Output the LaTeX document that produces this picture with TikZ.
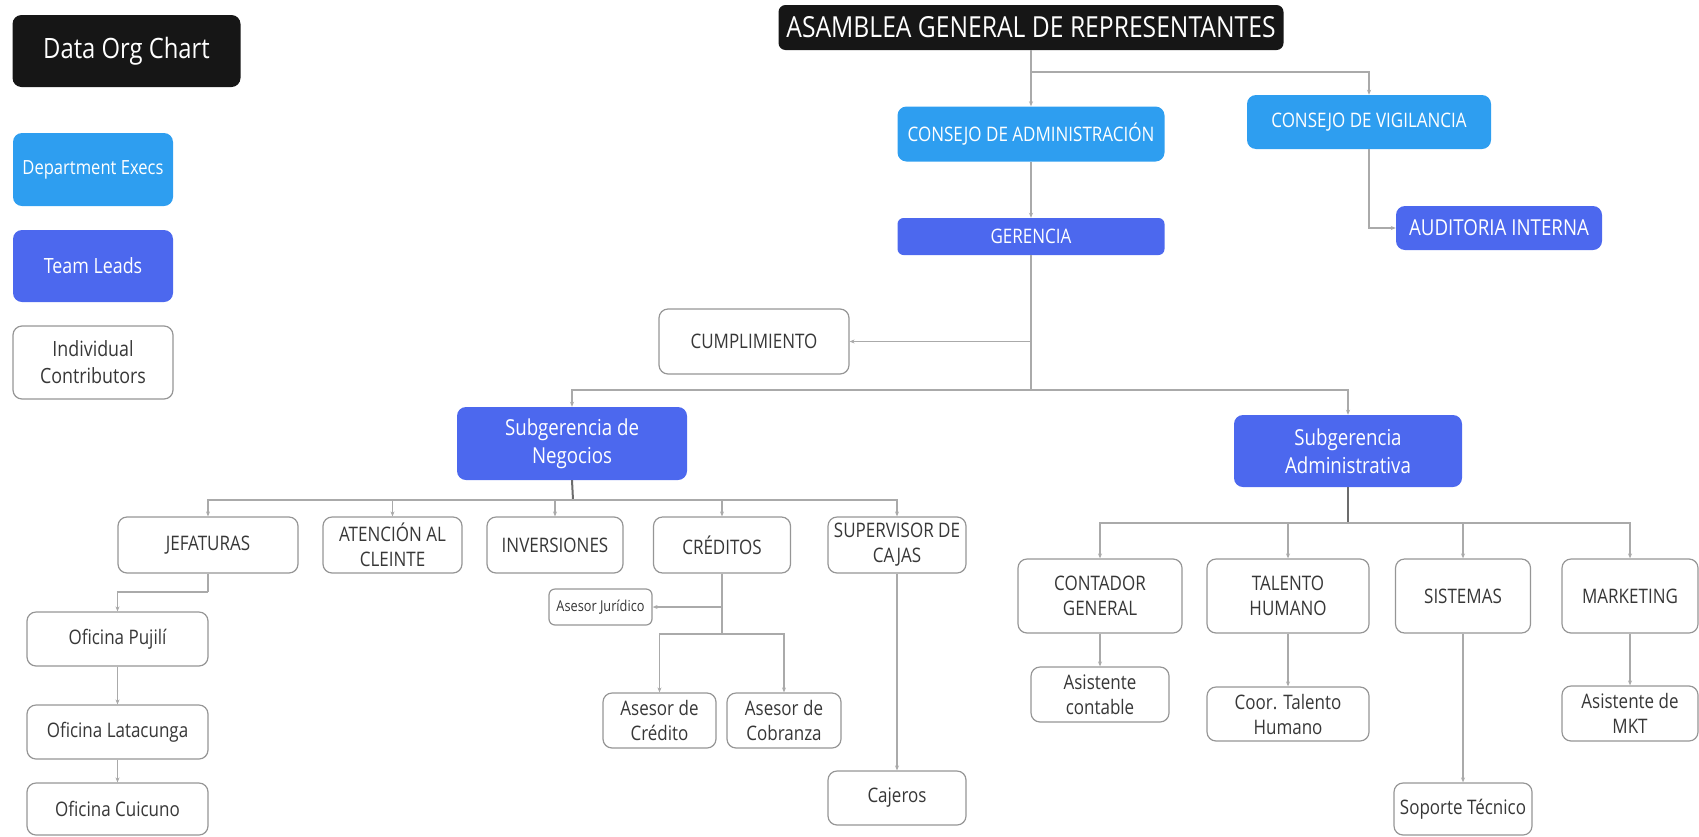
\documentclass[tikz,border=0pt]{standalone}
\usepackage{fontspec}
\setmainfont{Open Sans}[FakeStretch=0.85]
\usetikzlibrary{arrows.meta}
\definecolor{execblue}{RGB}{46,158,240}
\definecolor{leadblue}{RGB}{76,104,238}
\definecolor{nearblack}{RGB}{22,22,22}
\definecolor{boxgray}{RGB}{150,150,150}
\definecolor{linegray}{RGB}{170,170,170}
\definecolor{txtgray}{RGB}{55,55,55}

\begin{document}
\begin{tikzpicture}[x=1pt, y=-1pt,
  card/.style={rounded corners=9pt, align=center, inner sep=0pt,
    font=\fontsize{20}{25}\selectfont},
  wh/.style 2 args={minimum width=#1pt, minimum height=#2pt},
  blackbox/.style={card, fill=nearblack, text=white},
  execbox/.style={card, fill=execblue, text=white},
  leadbox/.style={card, fill=leadblue, text=white},
  icbox/.style={card, draw=boxgray, line width=1.2pt, fill=white, text=txtgray},
  wire/.style={draw=linegray, line width=1.4pt, -{Stealth[length=5pt,width=4pt]}},
  stem/.style={draw=gray!85!black, line width=2pt}
]
  \useasboundingbox (0,0) rectangle (1699,836);

  % Legend
  \node[blackbox, wh={228}{72}, font=\fontsize{28}{34}\selectfont] (title) at (126.5,51) {Data Org Chart};
  \node[execbox, wh={160}{73}, font=\fontsize{19.5}{25}\selectfont] (legexec) at (93,169.5) {Department Execs};
  \node[leadbox, wh={160}{72}, font=\fontsize{21}{27}\selectfont] (leglead) at (93,266) {Team Leads};
  \node[icbox, wh={160}{73}, font=\fontsize{21}{27}\selectfont] (legic) at (93,362.5) {Individual\\Contributors};

  % Top levels
  \node[blackbox, wh={505}{45}, rounded corners=7pt, font=\fontsize{29}{34}\selectfont] (asam) at (1031,27.5)
    {ASAMBLEA GENERAL DE REPRESENTANTES};
  \node[execbox, wh={267}{55}] (cadm) at (1031,134) {CONSEJO DE ADMINISTRACIÓN};
  \node[execbox, wh={244}{54}] (cvig) at (1369,122) {CONSEJO DE VIGILANCIA};
  \node[leadbox, wh={267}{37}, rounded corners=6pt] (ger) at (1031,236.5) {GERENCIA};
  \node[leadbox, wh={206}{44}, font=\fontsize{22}{27}\selectfont] (aud) at (1499,228) {AUDITORIA INTERNA};
  \node[icbox, wh={190}{65}] (cump) at (754,341.5) {CUMPLIMIENTO};
  \node[leadbox, wh={230}{73}, font=\fontsize{22}{28}\selectfont] (subn) at (572,443.5) {Subgerencia de\\Negocios};
  \node[leadbox, wh={228}{72}, font=\fontsize{22}{28}\selectfont] (suba) at (1348,451) {Subgerencia\\Administrativa};

  % Negocios
  \node[icbox, wh={180}{56}] (jef) at (208,545) {JEFATURAS};
  \node[icbox, wh={139}{56}] (ate) at (392.5,545) {ATENCIÓN AL\\CLEINTE};
  \node[icbox, wh={136}{56}] (inv) at (555,545) {INVERSIONES};
  \node[icbox, wh={137}{56}] (cred) at (722,545) {CRÉDITOS};
  \node[icbox, wh={138}{56}] (sup) at (897,545) {SUPERVISOR DE\\CAJAS};
  \node[icbox, wh={103}{36}, rounded corners=6pt, font=\fontsize{15}{18}\selectfont] (jur) at (600.5,607) {Asesor Jurídico};
  \node[icbox, wh={181}{54}] (puj) at (117.5,639) {Oficina Pujilí};
  \node[icbox, wh={181}{54}] (lat) at (117.5,732) {Oficina Latacunga};
  \node[icbox, wh={181}{52}] (cui) at (117.5,809) {Oficina Cuicuno};
  \node[icbox, wh={113}{55}] (acred) at (659.5,720.5) {Asesor de\\Crédito};
  \node[icbox, wh={114}{55}] (acob) at (784,720.5) {Asesor de\\Cobranza};
  \node[icbox, wh={138}{54}] (caj) at (897,798) {Cajeros};

  % Administrativa
  \node[icbox, wh={164}{74}] (cont) at (1100,596) {CONTADOR\\GENERAL};
  \node[icbox, wh={162}{74}] (tal) at (1288,596) {TALENTO\\HUMANO};
  \node[icbox, wh={135}{74}] (sis) at (1463,596) {SISTEMAS};
  \node[icbox, wh={136}{74}] (mkt) at (1630,596) {MARKETING};
  \node[icbox, wh={138}{55}] (asc) at (1100,694.5) {Asistente\\contable};
  \node[icbox, wh={162}{54}] (coor) at (1288,714) {Coor. Talento\\Humano};
  \node[icbox, wh={138}{52}] (sop) at (1463,809) {Soporte Técnico};
  \node[icbox, wh={136}{55}] (amkt) at (1630,713.5) {Asistente de\\MKT};

  % Junctions
  \coordinate (jtop) at (1031,72);
  \coordinate (jger) at (1031,390);
  \coordinate (jneg) at (573,500);
  \coordinate (jadm) at (1348,523);
  \coordinate (jjef) at (208,592);
  \coordinate (jcred) at (722,634);

  % Connectors
  \draw[wire] (asam.south) -- (cadm.north);
  \draw[wire] (jtop) -| (cvig.north);
  \draw[wire] (cadm.south) -- (ger.north);
  \draw[wire] (cvig.south) |- (aud.west);
  \draw[draw=linegray, line width=1.4pt] (ger.south) -- (jger);
  \draw[wire] (ger.south |- cump.east) -- (cump.east);
  \draw[wire] (jger) -| (subn.north);
  \draw[wire] (jger) -| (suba.north);

  \draw[stem] (subn.south) -- (jneg);
  \foreach \kid in {jef,ate,inv,cred,sup}
    \draw[wire] (jneg) -| (\kid.north);
  \draw[draw=linegray, line width=1.4pt] (jef.south) -- (jjef);
  \draw[wire] (jjef) -| (puj.north);
  \draw[wire] (puj) -- (lat);
  \draw[wire] (lat) -- (cui);
  \draw[draw=linegray, line width=1.4pt] (cred.south) -- (jcred);
  \draw[wire] (cred.south |- jur.east) -- (jur.east);
  \draw[wire] (jcred) -| (acred.north);
  \draw[wire] (jcred) -| (acob.north);
  \draw[wire] (sup) -- (caj);

  \draw[stem] (suba.south) -- (jadm);
  \foreach \kid in {cont,tal,sis,mkt}
    \draw[wire] (jadm) -| (\kid.north);
  \draw[wire] (cont) -- (asc);
  \draw[wire] (tal) -- (coor);
  \draw[wire] (sis) -- (sop);
  \draw[wire] (mkt) -- (amkt);
\end{tikzpicture}
\end{document}
